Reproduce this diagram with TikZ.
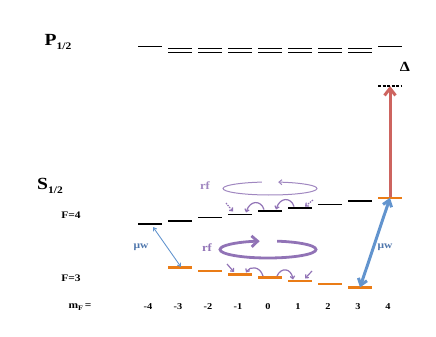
\documentclass[tikz,border=0pt]{standalone}
\usepackage{fontspec}
\setmainfont{Liberation Serif}[FakeStretch=1.15]
\usetikzlibrary{arrows.meta}
\definecolor{orng}{RGB}{234,124,22}
\definecolor{mwblue}{RGB}{98,148,206}
\definecolor{mwtext}{RGB}{78,118,172}
\definecolor{redar}{RGB}{205,100,95}
\definecolor{purp}{RGB}{145,115,182}
\definecolor{purpl}{RGB}{160,135,192}
\tikzset{
  lev4/.style={line width=1.6pt, black},
  lev3/.style={line width=2.6pt, orng},
  plev/.style={line width=1.25pt, black},
  lbl/.style={inner sep=0pt, font=\bfseries\fontsize{10}{12}\selectfont},
  big/.style={inner sep=0pt, font=\bfseries\fontsize{17}{18}\selectfont},
  mwt/.style={lbl, text=mwtext},
  rft/.style={inner sep=0pt, font=\bfseries\fontsize{11}{12}\selectfont},
  mwarrow/.style={mwblue, line width=3pt, {Straight Barb[length=6pt,width=9pt]}-{Straight Barb[length=6pt,width=9pt]}},
  mwthin/.style={mwblue, line width=0.9pt, {Straight Barb[length=3pt,width=4pt]}-{Straight Barb[length=3pt,width=4pt]}},
  redarrow/.style={redar, line width=3pt, -{Straight Barb[length=7pt,width=11pt]}},
  smarr/.style={purp, line width=1.2pt, -{Straight Barb[length=2.5pt,width=4.5pt]}},
}
\begin{document}
\begin{tikzpicture}[x=1pt,y=-1pt]
\useasboundingbox (0,0) rectangle (436,337);
% coordinates of level centres
\foreach \i in {0,...,8}{
  \pgfmathsetmacro\x{150+30*\i}
  \pgfmathsetmacro\y{211-3.3*(\i-4)}
  \coordinate (u\i) at (\x,\y);
}
\foreach \i in {1,...,7}{
  \pgfmathsetmacro\x{150+30*\i}
  \pgfmathsetmacro\y{277.5+3.3*(\i-4)}
  \coordinate (l\i) at (\x,\y);
}
\coordinate (det) at (390,86);
% red laser arrow
\draw[redarrow] (u8) -- (det);
\draw[black, line width=1.3pt, dash pattern=on 3pt off 1.5pt] (378,86) -- (402,86);
% P1/2 levels
\foreach \i in {0,8}{
  \pgfmathsetmacro\x{150+30*\i}
  \draw[plev] (\x-12,46.7) -- (\x+12,46.7);
}
\foreach \i in {1,...,7}{
  \pgfmathsetmacro\x{150+30*\i}
  \draw[plev] (\x-12,48.5) -- (\x+12,48.5);
  \draw[plev] (\x-12,52.2) -- (\x+12,52.2);
}
% F=4 levels
\foreach \i in {0,...,7}{
  \draw[lev4] (u\i) ++(-12,0) -- ++(24,0);
}
\draw[lev3] (u8) ++(-12,0) -- ++(24,0);
% F=3 levels
\foreach \i in {1,...,7}{
  \draw[lev3] (l\i) ++(-12,0) -- ++(24,0);
}
% mF labels
\foreach \i in {0,...,8}{
  \pgfmathsetmacro\x{150+30*\i}
  \pgfmathtruncatemacro\m{\i-4}
  \node[lbl, font=\bfseries\fontsize{9}{10}\selectfont] (mf\i) at (\x-2,307) {\m};
}
% microwave arrows
\coordinate (mwa) at (153,227);
\coordinate (mwb) at (181,267);
\draw[mwthin] (mwa) -- (mwb);
\draw[mwarrow] (l7) -- (u8);
% rf ellipses
\draw[purpl, line width=1pt, -{Straight Barb[length=3pt,width=5pt]}]
  (270,188.5) ++(260:47 and 6.5) arc[start angle=260, end angle=-80, x radius=47, y radius=6.5];
\draw[purp, line width=2.8pt, -{Straight Barb[length=6pt,width=11pt]}]
  (268,249.5) ++(281:48 and 8.5) arc[start angle=281, end angle=620, x radius=48, y radius=8.5];
% small rf transition arrows F=4
\draw[smarr, dash pattern=on 1.5pt off 1pt] (226,203) -- (233,211.5);
\draw[smarr] (264,209.5) .. controls (261,200) and (250,200) .. (246,212.5);
\draw[smarr] (294,206.5) .. controls (291,197) and (280,197) .. (276,209.5);
\draw[smarr, dash pattern=on 1.5pt off 1pt] (313,200) -- (305,206.5);
% small rf transition arrows F=3
\draw[smarr] (227,264) -- (234,272);
\draw[smarr] (263,276) .. controls (260,266) and (250,266) .. (246,272.5);
\draw[smarr] (277,276) .. controls (281,267) and (291,268) .. (293,279.5);
\draw[smarr] (312,271) -- (305,278.5);
% labels
\node[big] (P) at (58,42) {P\raisebox{-3.5pt}{\fontsize{10}{10}\selectfont 1/2}};
\node[big] (S) at (50,186) {S\raisebox{-3.5pt}{\fontsize{10}{10}\selectfont 1/2}};
\node[lbl] (F4) at (71,215) {F=4};
\node[lbl] (F3) at (71,278) {F=3};
\node[lbl] (mF) at (80,307) {m\raisebox{-2pt}{\fontsize{7}{7}\selectfont F}\,=};
\node[inner sep=0pt, font=\bfseries\fontsize{14}{14}\selectfont] (D) at (405,67) {Δ};
\node[rft, text=purpl] (rf1) at (205,186) {rf};
\node[rft, text=purp] (rf2) at (207,248) {rf};
\node[mwt] (mw1) at (141,247) {μw};
\node[mwt] (mw2) at (385,247) {μw};
\end{tikzpicture}
\end{document}
